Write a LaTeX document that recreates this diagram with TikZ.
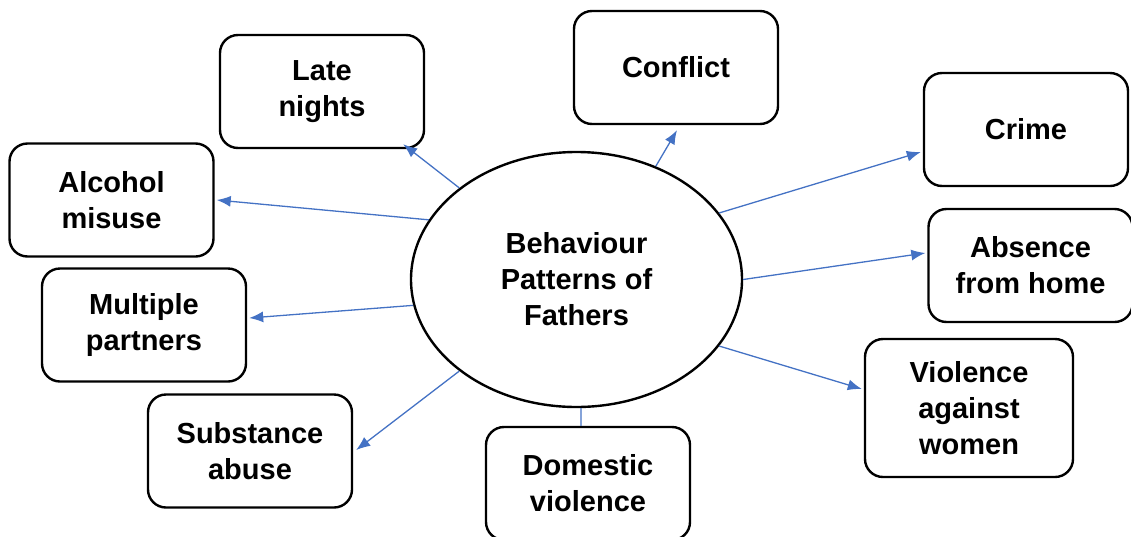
\documentclass[tikz,border=0pt]{standalone}
\usepackage{fontspec}
\setmainfont{Liberation Sans}
\usetikzlibrary{shapes.geometric,arrows.meta,calc}
\definecolor{arrblue}{HTML}{4472C4}
\begin{document}
\begin{tikzpicture}[x=1pt,y=-1pt,
  box/.style={draw, line width=2.4pt, rounded corners=18pt, inner sep=0pt,
    minimum width=204pt, minimum height=113pt, align=center,
    font=\fontsize{29}{36}\selectfont\bfseries},
  hub/.style={draw, ellipse, line width=2.4pt, inner sep=0pt,
    minimum width=331pt, minimum height=255pt, align=center,
    font=\fontsize{29}{36}\selectfont\bfseries},
  arr/.style={draw=arrblue, line width=1.3pt, -{Latex[length=14pt,width=11pt]}},
  link/.style={draw=arrblue, line width=1.3pt}]
\useasboundingbox (0,0) rectangle (1131,536);
\clip (0,0) rectangle (1131,536);
\node[hub] (ell) at (576.5,279.5) {Behaviour\\Patterns of\\Fathers};
\node[box] (late) at (322,91.5) {Late\\nights};
\node[box] (conf) at (676,67.5) {Conflict};
\node[box] (crime) at (1026,129.5) {Crime};
\node[box] (alc) at (111.5,200) {Alcohol\\misuse};
\node[box] (abs) at (1030.5,265.5) {Absence\\from home};
\node[box] (mult) at (144,325) {Multiple\\partners};
\node[box, minimum width=208pt, minimum height=138pt] (viol) at (969,408) {Violence\\against\\women};
\node[box] (subs) at (250,451) {Substance\\abuse};
\node[box] (dom) at (588,483.5) {Domestic\\violence};
\draw[arr] (ell.142.3) -- ($(late.south east)+(-22,-5)$);
\draw[arr] (ell.55.1) -- ($(conf.south)+(1,5)$);
\draw[arr] (ell.25.4) -- ($(crime.west)+(-2,22.5)$);
\draw[arr] (ell.158.8) -- ($(alc.east)+(2,0)$);
\draw[arr] (ell.0.9) -- ($(abs.west)+(-2,-12.5)$);
\draw[arr] (ell.189.8) -- ($(mult.east)+(2,-7)$);
\draw[arr] (ell.335.8) -- ($(viol.west)+(-2,-19)$);
\draw[arr] (ell.218.4) -- ($(subs.east)+(3,-1)$);
\draw[link] (ell.272.5) -- ($(dom.north)+(-7,0)$);
\end{tikzpicture}
\end{document}
